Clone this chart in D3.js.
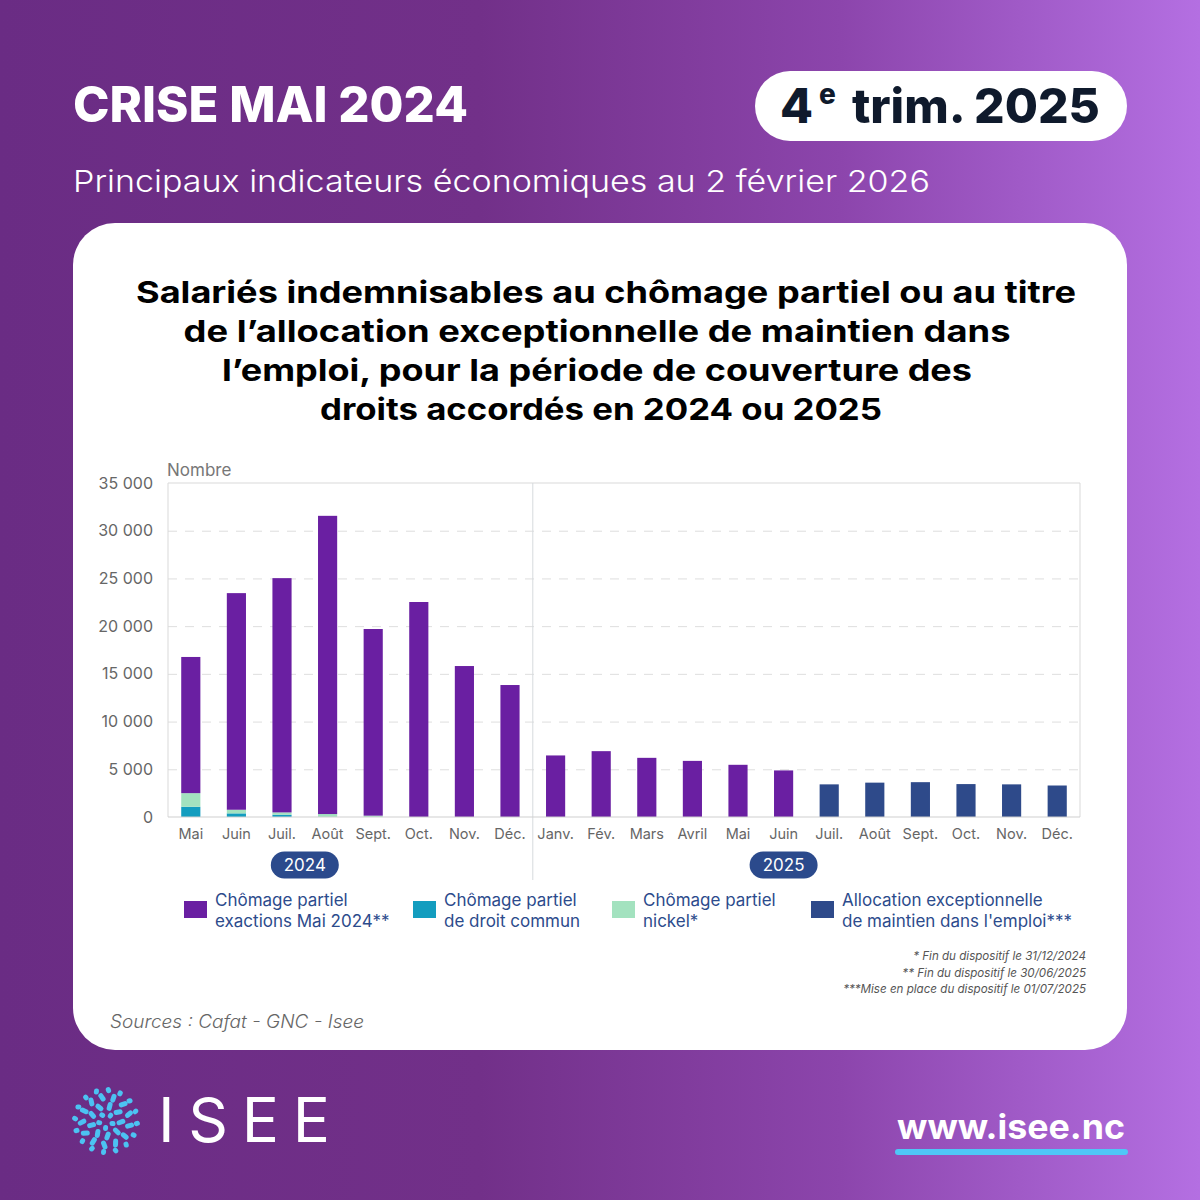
<!DOCTYPE html>
<html>
<head>
<meta charset="utf-8">
<script src="https://cdn.jsdelivr.net/npm/d3@7"></script>
<style>
  body { margin: 0; background: #fff; }
  svg { display: block; }
</style>
</head>
<body>
<div id="chart"></div>
<script>
// --- data ---
const periods = ["2024-05", "2024-06", "2024-07", "2024-08", "2024-09", "2024-10", "2024-11", "2024-12",
  "2025-01", "2025-02", "2025-03", "2025-04", "2025-05", "2025-06", "2025-07", "2025-08", "2025-09", "2025-10", "2025-11", "2025-12"];
const monthLabels = ["Mai", "Juin", "Juil.", "Août", "Sept.", "Oct.", "Nov.", "Déc.",
  "Janv.", "Fév.", "Mars", "Avril", "Mai", "Juin", "Juil.", "Août", "Sept.", "Oct.", "Nov.", "Déc."];

const exactions = [14270, 22700, 24550, 31250, 19560, 22530, 15820, 13830,
  6450, 6900, 6200, 5880, 5470, 4880, 0, 0, 0, 0, 0, 0];
const droitCommun = [1070, 380, 240, 0, 0, 0, 0, 0,
  0, 0, 0, 0, 0, 0, 0, 0, 0, 0, 0, 0];
const nickel = [1430, 380, 240, 310, 140, 0, 0, 0,
  0, 0, 0, 0, 0, 0, 0, 0, 0, 0, 0, 0];
const allocation = [0, 0, 0, 0, 0, 0, 0, 0,
  0, 0, 0, 0, 0, 0, 3420, 3600, 3650, 3450, 3420, 3300];

const yTicks = [0, 5000, 10000, 15000, 20000, 25000, 30000, 35000];
const yearPills = [
  { label: "2024", at: ["2024-07", "2024-08"] },
  { label: "2025", at: ["2025-06", "2025-06"] }
];

const seriesInfo = [
  { key: "exactions", lines: ["Chômage partiel", "exactions Mai 2024**"], color: "#6a1fa2" },
  { key: "droitCommun", lines: ["Chômage partiel", "de droit commun"], color: "#139dbf" },
  { key: "nickel", lines: ["Chômage partiel", "nickel*"], color: "#a3e2bf" },
  { key: "allocation", lines: ["Allocation exceptionnelle", "de maintien dans l'emploi***"], color: "#2e4a8a" }
];
const stackOrder = ["droitCommun", "nickel", "exactions", "allocation"];

const footnotes = ["* Fin du dispositif le 31/12/2024",
  "** Fin du dispositif le 30/06/2025",
  "***Mise en place du dispositif le 01/07/2025"];

const titleLines = [
  "Salariés indemnisables au chômage partiel ou au titre",
  "de l’allocation exceptionnelle de maintien dans",
  "l’emploi, pour la période de couverture des",
  "droits accordés en 2024 ou 2025"
];

// --- page ---
const W = 1200, H = 1200;
const svg = d3.select("#chart").append("svg")
  .attr("width", W).attr("height", H);

const defs = svg.append("defs");
const grad = defs.append("linearGradient").attr("id", "bg")
  .attr("x1", "0%").attr("x2", "100%").attr("y1", "0%").attr("y2", "0%");
grad.append("stop").attr("offset", "0%").attr("stop-color", "#6a2c84");
grad.append("stop").attr("offset", "40%").attr("stop-color", "#723089");
grad.append("stop").attr("offset", "70%").attr("stop-color", "#8c45ac");
grad.append("stop").attr("offset", "100%").attr("stop-color", "#b46fe2");

svg.append("rect").attr("width", W).attr("height", H).attr("fill", "url(#bg)");

const headFont = "Inter, 'Open Sans', sans-serif";

// header
svg.append("text")
  .attr("x", 73).attr("y", 122)
  .attr("fill", "#fff")
  .attr("font-family", headFont).attr("font-weight", 800).attr("font-size", 50)
  .attr("textLength", 395).attr("lengthAdjust", "spacingAndGlyphs")
  .text("CRISE MAI 2024");

svg.append("text")
  .attr("x", 73).attr("y", 192)
  .attr("fill", "#fff")
  .attr("font-family", headFont).attr("font-weight", 300).attr("font-size", 30)
  .attr("textLength", 857).attr("lengthAdjust", "spacingAndGlyphs")
  .text("Principaux indicateurs économiques au 2 février 2026");

// badge
svg.append("rect")
  .attr("x", 755).attr("y", 71).attr("width", 372).attr("height", 70)
  .attr("rx", 35).attr("fill", "#fff");
const badge = svg.append("text")
  .attr("x", 780).attr("y", 123)
  .attr("fill", "#0f1a2c")
  .attr("font-family", headFont).attr("font-weight", 800).attr("font-size", 48);
badge.append("tspan").text("4");
badge.append("tspan").attr("font-size", 28).attr("dy", -19).attr("dx", 6).text("e");
badge.append("tspan").attr("dy", 19).attr("dx", 16)
  .attr("textLength", 248).attr("lengthAdjust", "spacingAndGlyphs")
  .text("trim. 2025");

// white card
svg.append("rect")
  .attr("x", 73).attr("y", 223).attr("width", 1054).attr("height", 827)
  .attr("rx", 42).attr("fill", "#fff");

// chart title
const titleCenters = [606, 597, 597, 601];
const titleWidths = [940, 827, 750, 562];
svg.append("g").selectAll("text")
  .data(titleLines)
  .join("text")
  .attr("x", (d, i) => titleCenters[i])
  .attr("y", (d, i) => 303 + i * 39)
  .attr("text-anchor", "middle")
  .attr("fill", "#000")
  .attr("font-family", headFont).attr("font-weight", 700).attr("font-size", 30)
  .attr("textLength", (d, i) => titleWidths[i]).attr("lengthAdjust", "spacingAndGlyphs")
  .text(d => d);

// --- plot ---
const chartFont = "Inter, 'Noto Sans', sans-serif";
const plotLeft = 168, plotRight = 1080, plotTop = 483, plotBottom = 817;

const x = d3.scaleBand()
  .domain(periods)
  .range([plotLeft, plotRight])
  .paddingInner(0.58)
  .paddingOuter(0.29);

const y = d3.scaleLinear()
  .domain([0, 35000])
  .range([plotBottom, plotTop]);

const fr = d3.formatLocale({ decimal: ",", thousands: " ", grouping: [3], currency: ["", " €"] });
const fmt = fr.format(",d");

// gridlines
const grid = svg.append("g")
  .attr("transform", `translate(${plotLeft},0)`)
  .call(d3.axisLeft(y).tickValues(yTicks.filter(v => v > 0 && v < 35000)).tickSize(-(plotRight - plotLeft)).tickFormat(""));
grid.select(".domain").remove();
grid.selectAll(".tick line")
  .attr("stroke", "#dedede").attr("stroke-dasharray", "9,8");

// frame
const frame = svg.append("g").attr("stroke", "#d9d9d9").attr("fill", "none");
frame.append("line").attr("x1", plotLeft).attr("x2", plotRight).attr("y1", y(35000)).attr("y2", y(35000));
frame.append("line").attr("x1", plotLeft).attr("x2", plotLeft).attr("y1", y(35000)).attr("y2", y(0));
frame.append("line").attr("x1", plotRight).attr("x2", plotRight).attr("y1", y(35000)).attr("y2", y(0));

// year separator
const sepX = x("2025-01") - x.step() * x.paddingInner() / 2;
svg.append("line")
  .attr("x1", sepX).attr("x2", sepX)
  .attr("y1", y(35000)).attr("y2", 880)
  .attr("stroke", "#d6dadd");

// y axis
const yAxis = svg.append("g")
  .attr("transform", `translate(${plotLeft - 12},0)`)
  .call(d3.axisLeft(y).tickValues(yTicks).tickSize(0).tickFormat(fmt));
yAxis.select(".domain").remove();
yAxis.selectAll("text")
  .attr("fill", "#666").attr("font-family", chartFont).attr("font-size", 16);

svg.append("text")
  .attr("x", plotLeft - 1).attr("y", 476)
  .attr("fill", "#777").attr("font-family", chartFont).attr("font-size", 17)
  .text("Nombre");

// stacked bars
const rows = periods.map((p, i) => ({
  period: p,
  exactions: exactions[i],
  droitCommun: droitCommun[i],
  nickel: nickel[i],
  allocation: allocation[i]
}));
const stacked = d3.stack().keys(stackOrder)(rows);
const colorOf = Object.fromEntries(seriesInfo.map(s => [s.key, s.color]));

svg.append("g").selectAll("g")
  .data(stacked)
  .join("g")
  .attr("fill", d => colorOf[d.key])
  .selectAll("rect")
  .data(d => d.filter(v => v[1] - v[0] > 0))
  .join("rect")
  .attr("x", d => x(d.data.period))
  .attr("width", x.bandwidth())
  .attr("y", d => y(d[1]))
  .attr("height", d => y(d[0]) - y(d[1]));

// baseline
svg.append("line")
  .attr("x1", plotLeft).attr("x2", plotRight).attr("y1", y(0)).attr("y2", y(0))
  .attr("stroke", "#cfcfcf");

// x axis
const xAxis = svg.append("g")
  .attr("transform", `translate(0,${plotBottom + 5})`)
  .call(d3.axisBottom(x).tickSize(0).tickFormat((d, i) => monthLabels[i]));
xAxis.select(".domain").remove();
xAxis.selectAll("text")
  .attr("fill", "#666").attr("font-family", chartFont).attr("font-size", 14.5)
  .attr("dy", "0.95em");

// year pills
const pills = svg.append("g").selectAll("g")
  .data(yearPills)
  .join("g")
  .attr("transform", d => {
    const cx = (x(d.at[0]) + x(d.at[1])) / 2 + x.bandwidth() / 2;
    return `translate(${cx},865)`;
  });
pills.append("rect")
  .attr("x", -34).attr("y", -13.5).attr("width", 68).attr("height", 27)
  .attr("rx", 13.5).attr("fill", "#2b4a8c");
pills.append("text")
  .attr("text-anchor", "middle").attr("dy", "0.36em")
  .attr("fill", "#fff").attr("font-family", chartFont).attr("font-size", 17)
  .text(d => d.label);

// legend
const legendX = [184, 413, 612, 811];
const legend = svg.append("g").selectAll("g")
  .data(seriesInfo)
  .join("g")
  .attr("transform", (d, i) => `translate(${legendX[i]},900)`);
legend.append("rect")
  .attr("width", 23).attr("height", 17).attr("y", 1)
  .attr("fill", d => d.color);
legend.append("text")
  .attr("x", 31)
  .attr("fill", "#2c4b8c").attr("font-family", chartFont).attr("font-size", 17)
  .selectAll("tspan")
  .data(d => d.lines)
  .join("tspan")
  .attr("x", 31)
  .attr("y", (d, i) => 6 + i * 21)
  .text(d => d);

// footnotes
svg.append("g").selectAll("text")
  .data(footnotes)
  .join("text")
  .attr("x", 1086).attr("y", (d, i) => 960 + i * 16.5)
  .attr("text-anchor", "end")
  .attr("fill", "#555").attr("font-family", chartFont)
  .attr("font-style", "italic").attr("font-size", 11.6)
  .text(d => d);

// sources
svg.append("text")
  .attr("x", 110).attr("y", 1028)
  .attr("fill", "#666").attr("font-family", headFont)
  .attr("font-style", "italic").attr("font-weight", 300).attr("font-size", 18)
  .attr("textLength", 254).attr("lengthAdjust", "spacingAndGlyphs")
  .text("Sources : Cafat - GNC - Isee");

// --- footer: logo + url ---
const logo = svg.append("g").attr("transform", "translate(106,1121)");
const rings = [
  { r: 7, n: 5, len: 6, off: 0.3 },
  { r: 15, n: 9, len: 9, off: 0.1 },
  { r: 24, n: 13, len: 9, off: 0.4 },
  { r: 31, n: 16, len: 6, off: 0.2 }
];
rings.forEach(ring => {
  d3.range(ring.n).forEach(k => {
    const a = (k + ring.off) / ring.n * 360;
    logo.append("rect")
      .attr("x", ring.r - ring.len / 2).attr("y", -2.5)
      .attr("width", ring.len).attr("height", 5).attr("rx", 2.5)
      .attr("fill", "#4cc2f2")
      .attr("transform", `rotate(${a}) rotate(${(k % 3 - 1) * 25},${ring.r},0)`);
  });
});
svg.append("text")
  .attr("x", 158).attr("y", 1142)
  .attr("fill", "#fff").attr("font-family", headFont).attr("font-weight", 400).attr("font-size", 62)
  .attr("textLength", 172).attr("lengthAdjust", "spacing")
  .text("ISEE");

svg.append("text")
  .attr("x", 897).attr("y", 1139)
  .attr("fill", "#fff").attr("font-family", headFont).attr("font-weight", 700).attr("font-size", 34)
  .attr("textLength", 228).attr("lengthAdjust", "spacingAndGlyphs")
  .text("www.isee.nc");
svg.append("rect")
  .attr("x", 895).attr("y", 1149).attr("width", 233).attr("height", 6).attr("rx", 3)
  .attr("fill", "#4fc6f7");
</script>
</body>
</html>
